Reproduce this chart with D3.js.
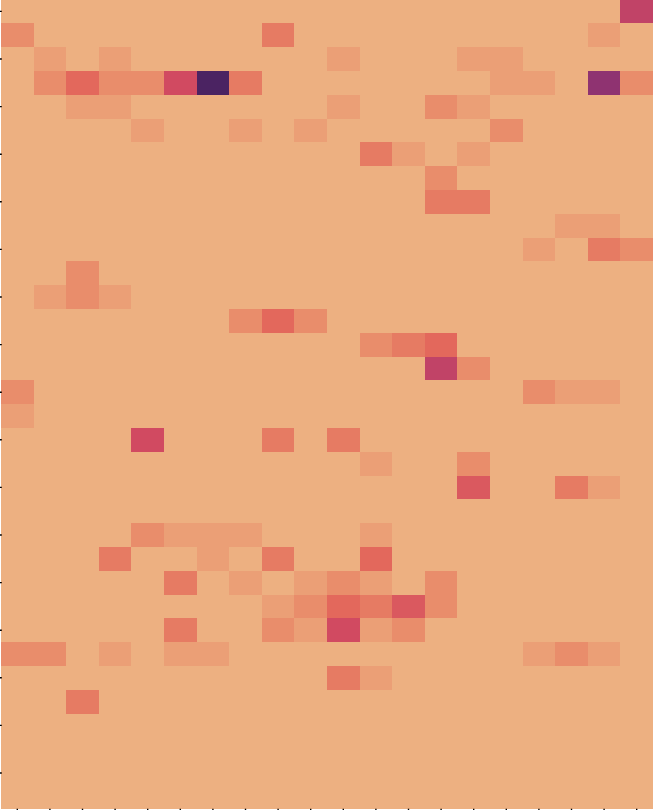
<!DOCTYPE html>
<html>
<head>
<meta charset="utf-8">
<script src="https://cdn.jsdelivr.net/npm/d3@7"></script>
<style>
  html, body { margin: 0; padding: 0; background: #ffffff; }
  svg { display: block; }
</style>
</head>
<body>
<svg id="chart" width="656" height="810"></svg>
<script>
// ---- data ----
const rowLabels = d3.range(34).map(String);
const colLabels = d3.range(20).map(String);
const yTickLabels = rowLabels.filter((d, i) => i % 2 === 0);
const xTickLabels = colLabels.slice();

// counts per row (row 0 at top), 20 columns each
const counts = [
  [0,0,0,0,0,0,0,0,0,0,0,0,0,0,0,0,0,0,0,7],
  [2,0,0,0,0,0,0,0,3,0,0,0,0,0,0,0,0,0,1,0],
  [0,1,0,1,0,0,0,0,0,0,1,0,0,0,1,1,0,0,0,0],
  [0,2,4,2,2,6,14,3,0,0,0,0,0,0,0,1,1,0,10,2],
  [0,0,1,1,0,0,0,0,0,0,1,0,0,2,1,0,0,0,0,0],
  [0,0,0,0,1,0,0,1,0,1,0,0,0,0,0,2,0,0,0,0],
  [0,0,0,0,0,0,0,0,0,0,0,3,1,0,1,0,0,0,0,0],
  [0,0,0,0,0,0,0,0,0,0,0,0,0,2,0,0,0,0,0,0],
  [0,0,0,0,0,0,0,0,0,0,0,0,0,3,3,0,0,0,0,0],
  [0,0,0,0,0,0,0,0,0,0,0,0,0,0,0,0,0,1,1,0],
  [0,0,0,0,0,0,0,0,0,0,0,0,0,0,0,0,1,0,3,2],
  [0,0,2,0,0,0,0,0,0,0,0,0,0,0,0,0,0,0,0,0],
  [0,1,2,1,0,0,0,0,0,0,0,0,0,0,0,0,0,0,0,0],
  [0,0,0,0,0,0,0,2,4,2,0,0,0,0,0,0,0,0,0,0],
  [0,0,0,0,0,0,0,0,0,0,0,2,3,4,0,0,0,0,0,0],
  [0,0,0,0,0,0,0,0,0,0,0,0,0,7,2,0,0,0,0,0],
  [2,0,0,0,0,0,0,0,0,0,0,0,0,0,0,0,2,1,1,0],
  [1,0,0,0,0,0,0,0,0,0,0,0,0,0,0,0,0,0,0,0],
  [0,0,0,0,6,0,0,0,3,0,3,0,0,0,0,0,0,0,0,0],
  [0,0,0,0,0,0,0,0,0,0,0,1,0,0,2,0,0,0,0,0],
  [0,0,0,0,0,0,0,0,0,0,0,0,0,0,5,0,0,3,1,0],
  [0,0,0,0,0,0,0,0,0,0,0,0,0,0,0,0,0,0,0,0],
  [0,0,0,0,2,1,1,1,0,0,0,1,0,0,0,0,0,0,0,0],
  [0,0,0,3,0,0,1,0,3,0,0,4,0,0,0,0,0,0,0,0],
  [0,0,0,0,0,3,0,1,0,1,2,1,0,2,0,0,0,0,0,0],
  [0,0,0,0,0,0,0,0,1,2,4,3,5,2,0,0,0,0,0,0],
  [0,0,0,0,0,3,0,0,2,1,6,1,2,0,0,0,0,0,0,0],
  [2,2,0,1,0,1,1,0,0,0,0,0,0,0,0,0,1,2,1,0],
  [0,0,0,0,0,0,0,0,0,0,3,1,0,0,0,0,0,0,0,0],
  [0,0,3,0,0,0,0,0,0,0,0,0,0,0,0,0,0,0,0,0],
  [0,0,0,0,0,0,0,0,0,0,0,0,0,0,0,0,0,0,0,0],
  [0,0,0,0,0,0,0,0,0,0,0,0,0,0,0,0,0,0,0,0],
  [0,0,0,0,0,0,0,0,0,0,0,0,0,0,0,0,0,0,0,0],
  [0,0,0,0,0,0,0,0,0,0,0,0,0,0,0,0,0,0,0,0]
];

// "flare" colormap stops
const flareStops = ["#edb081", "#e98d6b", "#e3685c", "#d14a61", "#b13c6c", "#8f3371", "#6c2b6d", "#4b2362"];

// ---- layout ----
const plot = { left: 1, top: -0.5, width: 652, height: 809.2 };

const svg = d3.select("#chart");

const x = d3.scaleBand().domain(colLabels).range([plot.left, plot.left + plot.width]).padding(0);
const y = d3.scaleBand().domain(rowLabels).range([plot.top, plot.top + plot.height]).padding(0);

const vmax = d3.max(counts.flat());
const color = d3.scaleSequential(d3.piecewise(d3.interpolateLab, flareStops)).domain([0, vmax]);

const cells = [];
counts.forEach((row, ri) => row.forEach((v, ci) => cells.push({ r: rowLabels[ri], c: colLabels[ci], v })));

svg.append("g")
  .selectAll("rect")
  .data(cells)
  .join("rect")
  .attr("x", d => x(d.c))
  .attr("y", d => y(d.r))
  .attr("width", x.bandwidth())
  .attr("height", y.bandwidth())
  .attr("fill", d => color(d.v))
  .attr("shape-rendering", "crispEdges");

// axes (ticks only, no labels, no spines)
const yAxis = d3.axisLeft(y).tickValues(yTickLabels).tickSize(4).tickFormat("");
const xAxis = d3.axisBottom(x).tickValues(xTickLabels).tickSize(4).tickFormat("");

const gy = svg.append("g").attr("transform", `translate(${plot.left + 0.8},0)`).call(yAxis);
const gx = svg.append("g").attr("transform", `translate(0,${plot.top + plot.height})`).call(xAxis);

[gy, gx].forEach(g => {
  g.select(".domain").remove();
  g.selectAll(".tick line").attr("stroke", "#000").attr("stroke-width", 1.4);
});
</script>
</body>
</html>
